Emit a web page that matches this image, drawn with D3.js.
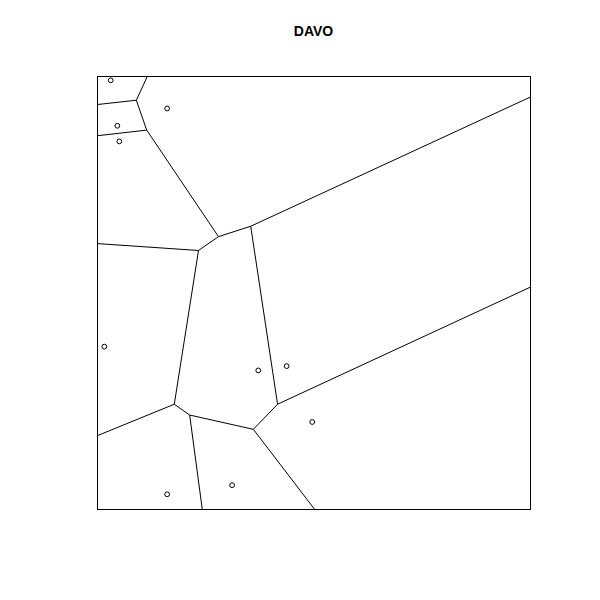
<!DOCTYPE html>
<html><head><meta charset="utf-8">
<script src="https://cdn.jsdelivr.net/npm/d3@7"></script>
<style>body{margin:0;background:#fff}</style>
</head><body>
<script>
const title = "DAVO";
const siteX = [3.16, 16.2, 4.69, 5.15, 1.69, 37.25, 43.8, 49.7, 16.2, 31.2];
const siteY = [99.0, 92.5, 88.5, 84.9, 37.5, 32.0, 33.0, 20.1, 3.4, 5.5];
// tessellation edges: [x1, y1, x2, y2] in data units
const edges = [
  [11.66, 100, 9.08, 94.4],
  [0, 93.4, 9.08, 94.4],
  [9.08, 94.4, 11.48, 87.5],
  [0, 86.2, 11.48, 87.5],
  [11.48, 87.5, 28.06, 62.9],
  [28.06, 62.9, 35.5, 65.3],
  [28.06, 62.9, 23.44, 59.7],
  [0, 61.3, 23.44, 59.7],
  [35.5, 65.3, 100, 95.1],
  [35.5, 65.3, 41.7, 24.2],
  [23.44, 59.7, 17.85, 24.2],
  [41.7, 24.2, 100, 51.2],
  [41.7, 24.2, 36.1, 18.4],
  [17.85, 24.2, 0, 16.9],
  [17.85, 24.2, 21.4, 21.7],
  [21.4, 21.7, 36.1, 18.4],
  [36.1, 18.4, 50.2, 0],
  [21.4, 21.7, 24.3, 0]
];
const W = 600, H = 600;
const svg = d3.select("body").append("svg").attr("width", W).attr("height", H);
const x = d3.scaleLinear().domain([0, 100]).range([97, 530]);
const y = d3.scaleLinear().domain([0, 100]).range([509, 76]);

svg.append("g").selectAll("line").data(edges).join("line")
  .attr("x1", d => x(d[0])).attr("y1", d => y(d[1]))
  .attr("x2", d => x(d[2])).attr("y2", d => y(d[3]))
  .attr("stroke", "#000").attr("stroke-width", 1);

svg.append("g").selectAll("circle").data(siteX.map((v, i) => [v, siteY[i]])).join("circle")
  .attr("cx", d => x(d[0])).attr("cy", d => y(d[1])).attr("r", 2.4)
  .attr("fill", "none").attr("stroke", "#000").attr("stroke-width", 1);

svg.append("rect")
  .attr("x", x(0) + 0.5).attr("y", y(100) + 0.5)
  .attr("width", x(100) - x(0)).attr("height", y(0) - y(100))
  .attr("fill", "none").attr("stroke", "#000").attr("stroke-width", 1);

svg.append("text").attr("x", (x(0) + x(100)) / 2).attr("y", 36)
  .attr("text-anchor", "middle").attr("font-family", "Liberation Sans, Arial, sans-serif")
  .attr("font-weight", "bold").attr("font-size", 14).text(title);
</script>
</body></html>
